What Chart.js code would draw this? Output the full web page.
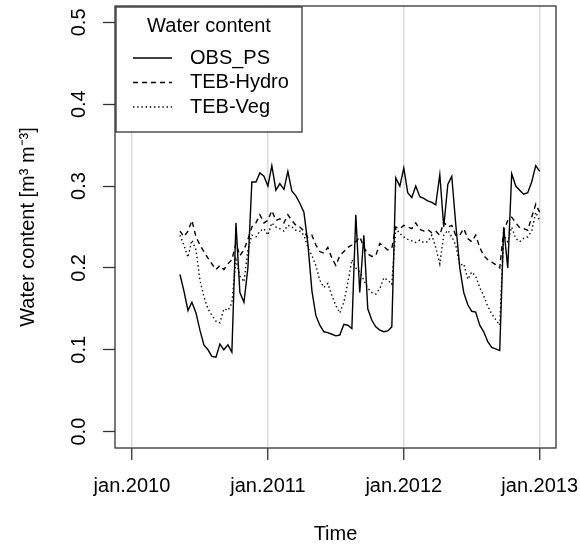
<!DOCTYPE html>
<html>
<head>
<meta charset="utf-8">
<script src="https://cdn.jsdelivr.net/npm/chart.js@4.4.0/dist/chart.umd.min.js"></script>
<style>
  body { margin: 0; background: #fff; }
</style>
</head>
<body>
<canvas id="water" width="580" height="546"></canvas>
<script>
// time in decimal years
const dates = [
  2010.353, 2010.382, 2010.412, 2010.441, 2010.471, 2010.500, 2010.529, 2010.559, 2010.588, 2010.618,
  2010.647, 2010.676, 2010.706, 2010.735, 2010.765, 2010.794, 2010.824, 2010.853, 2010.882, 2010.912,
  2010.941, 2010.971, 2011.000, 2011.029, 2011.059, 2011.088, 2011.118, 2011.147, 2011.176, 2011.206,
  2011.235, 2011.265, 2011.294, 2011.324, 2011.353, 2011.382, 2011.412, 2011.441, 2011.471, 2011.500,
  2011.529, 2011.559, 2011.588, 2011.618, 2011.647, 2011.676, 2011.706, 2011.735, 2011.765, 2011.794,
  2011.824, 2011.853, 2011.882, 2011.912, 2011.941, 2011.971, 2012.000, 2012.029, 2012.059, 2012.088,
  2012.118, 2012.147, 2012.176, 2012.206, 2012.235, 2012.265, 2012.294, 2012.324, 2012.353, 2012.382,
  2012.412, 2012.441, 2012.471, 2012.500, 2012.529, 2012.559, 2012.588, 2012.618, 2012.647, 2012.676,
  2012.706, 2012.735, 2012.765, 2012.794, 2012.824, 2012.853, 2012.882, 2012.912, 2012.941, 2012.971,
  2013.000
]

const obsPS = [
  0.192, 0.172, 0.148, 0.158, 0.145, 0.124, 0.106, 0.100, 0.092, 0.091,
  0.107, 0.100, 0.106, 0.097, 0.255, 0.170, 0.158, 0.200, 0.305, 0.305,
  0.316, 0.312, 0.300, 0.325, 0.295, 0.303, 0.296, 0.318, 0.294, 0.288,
  0.279, 0.268, 0.230, 0.172, 0.142, 0.130, 0.122, 0.121, 0.119, 0.117,
  0.118, 0.131, 0.130, 0.126, 0.265, 0.170, 0.240, 0.150, 0.136, 0.128,
  0.124, 0.122, 0.123, 0.128, 0.310, 0.300, 0.322, 0.292, 0.286, 0.300,
  0.287, 0.285, 0.282, 0.280, 0.277, 0.314, 0.250, 0.302, 0.312, 0.254,
  0.200, 0.170, 0.155, 0.147, 0.146, 0.130, 0.122, 0.110, 0.103, 0.101,
  0.099, 0.250, 0.200, 0.315, 0.300, 0.295, 0.290, 0.292, 0.305, 0.325,
  0.318
]

const tebHydro = [
  0.245, 0.238, 0.245, 0.258, 0.238, 0.228, 0.220, 0.212, 0.205, 0.198,
  0.203, 0.198, 0.205, 0.210, 0.230, 0.215, 0.222, 0.235, 0.250, 0.255,
  0.265, 0.255, 0.258, 0.270, 0.258, 0.260, 0.255, 0.265, 0.258, 0.252,
  0.250, 0.245, 0.237, 0.240, 0.228, 0.220, 0.218, 0.225, 0.212, 0.203,
  0.215, 0.220, 0.225, 0.228, 0.232, 0.238, 0.225, 0.217, 0.214, 0.215,
  0.230, 0.226, 0.222, 0.224, 0.250, 0.248, 0.252, 0.250, 0.248, 0.255,
  0.247, 0.245, 0.247, 0.243, 0.245, 0.240, 0.256, 0.250, 0.252, 0.240,
  0.240, 0.248, 0.236, 0.232, 0.240, 0.225, 0.215, 0.210, 0.207, 0.204,
  0.200, 0.245, 0.258, 0.262, 0.255, 0.249, 0.248, 0.246, 0.262, 0.278,
  0.268
]

const tebVeg = [
  0.240, 0.228, 0.213, 0.234, 0.222, 0.185, 0.165, 0.150, 0.142, 0.135,
  0.133, 0.150, 0.148, 0.157, 0.210, 0.190, 0.183, 0.222, 0.240, 0.238,
  0.245, 0.248, 0.240, 0.255, 0.250, 0.248, 0.245, 0.252, 0.250, 0.246,
  0.245, 0.240, 0.225, 0.215, 0.203, 0.185, 0.176, 0.181, 0.166, 0.154,
  0.145, 0.158, 0.182, 0.210, 0.200, 0.195, 0.185, 0.175, 0.170, 0.168,
  0.175, 0.188, 0.185, 0.180, 0.248, 0.242, 0.238, 0.235, 0.233, 0.231,
  0.234, 0.231, 0.232, 0.240, 0.225, 0.205, 0.240, 0.246, 0.238, 0.228,
  0.203, 0.205, 0.186, 0.195, 0.190, 0.176, 0.166, 0.153, 0.144, 0.137,
  0.130, 0.240, 0.232, 0.250, 0.236, 0.232, 0.236, 0.238, 0.245, 0.268,
  0.258
]

const seriesNames = ['OBS_PS', 'TEB-Hydro', 'TEB-Veg']
const yearTicks = [2010, 2011, 2012, 2013]
const waterTicks = [0, 0.1, 0.2, 0.3, 0.4, 0.5]

const FONT = "'Liberation Sans', Arial, Helvetica, sans-serif"
Chart.defaults.font.family = FONT
Chart.defaults.font.size = 20
Chart.defaults.color = '#000'

const makeSet = (label, values, dash) => ({
  label,
  data: dates.map((d, i) => ({ x: d, y: values[i] })),
  borderColor: '#000',
  borderWidth: 1.4,
  borderDash: dash,
  pointRadius: 0,
  tension: 0,
  fill: false
})

// box round the plot, like R's box()
const plotBox = {
  id: 'plotBox',
  afterDraw(chart) {
    const { ctx, chartArea: a } = chart
    ctx.save()
    ctx.strokeStyle = '#333'
    ctx.lineWidth = 1.3
    ctx.strokeRect(a.left, a.top, a.right - a.left, a.bottom - a.top)
    ctx.restore()
  }
}

// legend in the top left corner of the plot
const boxLegend = {
  id: 'boxLegend',
  afterDatasetsDraw(chart) {
    const { ctx, chartArea: a } = chart
    const x0 = a.left + 1, y0 = a.top + 1, w = 186, h = 125
    ctx.save()
    ctx.fillStyle = '#fff'
    ctx.fillRect(x0, y0, w, h)
    ctx.strokeStyle = '#333'
    ctx.lineWidth = 1.3
    ctx.strokeRect(x0, y0, w, h)
    ctx.fillStyle = '#000'
    ctx.font = '20px ' + FONT
    ctx.textBaseline = 'middle'
    ctx.textAlign = 'center'
    ctx.fillText('Water content', x0 + 93, y0 + 19)
    ctx.textAlign = 'left'
    chart.data.datasets.forEach((ds, i) => {
      const y = y0 + 51 + i * 24.5
      ctx.beginPath()
      ctx.setLineDash(ds.borderDash || [])
      ctx.lineWidth = 1.3
      ctx.strokeStyle = '#000'
      ctx.moveTo(x0 + 17, y)
      ctx.lineTo(x0 + 56, y)
      ctx.stroke()
      ctx.setLineDash([])
      ctx.fillText(ds.label, x0 + 74, y)
    })
    ctx.restore()
  }
}

new Chart('water', {
  type: 'line',
  data: {
    datasets: [
      makeSet(seriesNames[0], obsPS, []),
      makeSet(seriesNames[1], tebHydro, [5, 4]),
      makeSet(seriesNames[2], tebVeg, [1.4, 2.8])
    ]
  },
  options: {
    responsive: false,
    animation: false,
    devicePixelRatio: 1,
    layout: { padding: { top: 6, right: 24, left: 0, bottom: 0 } },
    plugins: { legend: { display: false }, tooltip: { enabled: false } },
    scales: {
      x: {
        type: 'linear',
        min: 2009.875,
        max: 2013.12,
        afterBuildTicks: s => { s.ticks = yearTicks.map(v => ({ value: v })) },
        afterFit: s => { s.height = 98; s.paddingLeft = 0; s.paddingRight = 0 },
        ticks: {
          maxRotation: 0,
          padding: 14,
          callback: v => 'jan.' + v
        },
        grid: {
          color: '#dcdcdc',
          lineWidth: 1.5,
          tickColor: '#333',
          tickWidth: 1.3,
          tickLength: 12
        },
        border: { display: false },
        title: { display: true, text: 'Time', padding: { top: 0, bottom: 0 } }
      },
      y: {
        type: 'linear',
        min: -0.02,
        max: 0.52,
        afterBuildTicks: s => { s.ticks = waterTicks.map(v => ({ value: v })) },
        afterFit: s => { s.width = 115; s.paddingTop = 0; s.paddingBottom = 0 },
        ticks: {
          minRotation: 90,
          maxRotation: 90,
          crossAlign: 'center',
          padding: 10,
          callback: v => v.toFixed(1)
        },
        grid: {
          drawOnChartArea: false,
          tickColor: '#333',
          tickWidth: 1.3,
          tickLength: 12
        },
        border: { display: false },
        title: { display: true, text: 'Water content [m³ m⁻³]', padding: { top: 16, bottom: 0 } }
      }
    }
  },
  plugins: [plotBox, boxLegend]
})
</script>
</body>
</html>
